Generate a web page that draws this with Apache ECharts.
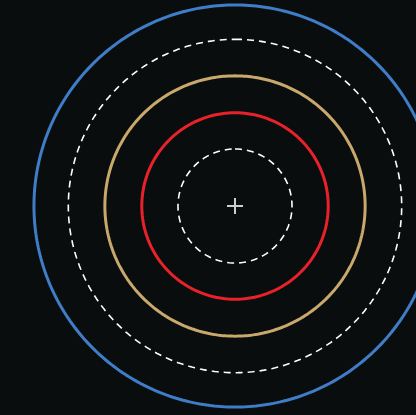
<!DOCTYPE html>
<html>
<head>
<meta charset="utf-8">
<script src="https://cdn.jsdelivr.net/npm/echarts@6/dist/echarts.min.js"></script>
<style>
html,body{margin:0;padding:0;background:#0a0d0d;}
#c{width:416px;height:415px;}
</style>
</head>
<body>
<div id="c"></div>
<script>
// Ring radii (arbitrary distance units)
const ringNames = ['Inner dashed', 'Red ring', 'Tan ring', 'Outer dashed', 'Blue ring'];
const ringRadii = [1.56, 2.55, 3.56, 4.56, 5.5];
const ringColors = ['#ffffff', '#e8222a', '#c8a86c', '#ffffff', '#3f7dc8'];
const ringTypes = ['dashed', 'solid', 'solid', 'dashed', 'solid'];
const radiusMax = 5.6;
const centerPoint = [[0, 0]];

// angular sweep used to trace each ring
const sweep = [];
for (let a = 0; a <= 360; a += 1) sweep.push(a);

const series = ringRadii.map((r, i) => ({
  name: ringNames[i],
  type: 'line',
  coordinateSystem: 'polar',
  symbol: 'none',
  silent: true,
  clip: false,
  data: sweep.map(a => [r, a]),
  lineStyle: {
    color: ringColors[i],
    width: ringTypes[i] === 'dashed' ? 1.6 : 3,
    type: ringTypes[i] === 'dashed' ? [7, 5] : 'solid'
  }
}));
series.push({
  type: 'scatter',
  coordinateSystem: 'polar',
  data: centerPoint,
  clip: false,
  symbol: 'path://M8,0L8,16M0,8L16,8',
  symbolSize: 16,
  itemStyle: { color: 'rgba(0,0,0,0)', borderColor: '#ffffff', borderWidth: 2 },
  silent: true,
  z: 5
});

const chart = echarts.init(document.getElementById('c'), null, { renderer: 'canvas' });
chart.setOption({
  backgroundColor: '#0a0d0d',
  animation: false,
  polar: { center: [235, 206], radius: 204.7 },
  angleAxis: {
    type: 'value', min: 0, max: 360, startAngle: 90,
    show: false, axisLine: { show: false }, splitLine: { show: false }, axisTick: { show: false }, axisLabel: { show: false }
  },
  radiusAxis: {
    type: 'value', min: 0, max: radiusMax,
    show: false, axisLine: { show: false }, splitLine: { show: false }, axisTick: { show: false }, axisLabel: { show: false }
  },
  series: series
});
</script>
</body>
</html>
